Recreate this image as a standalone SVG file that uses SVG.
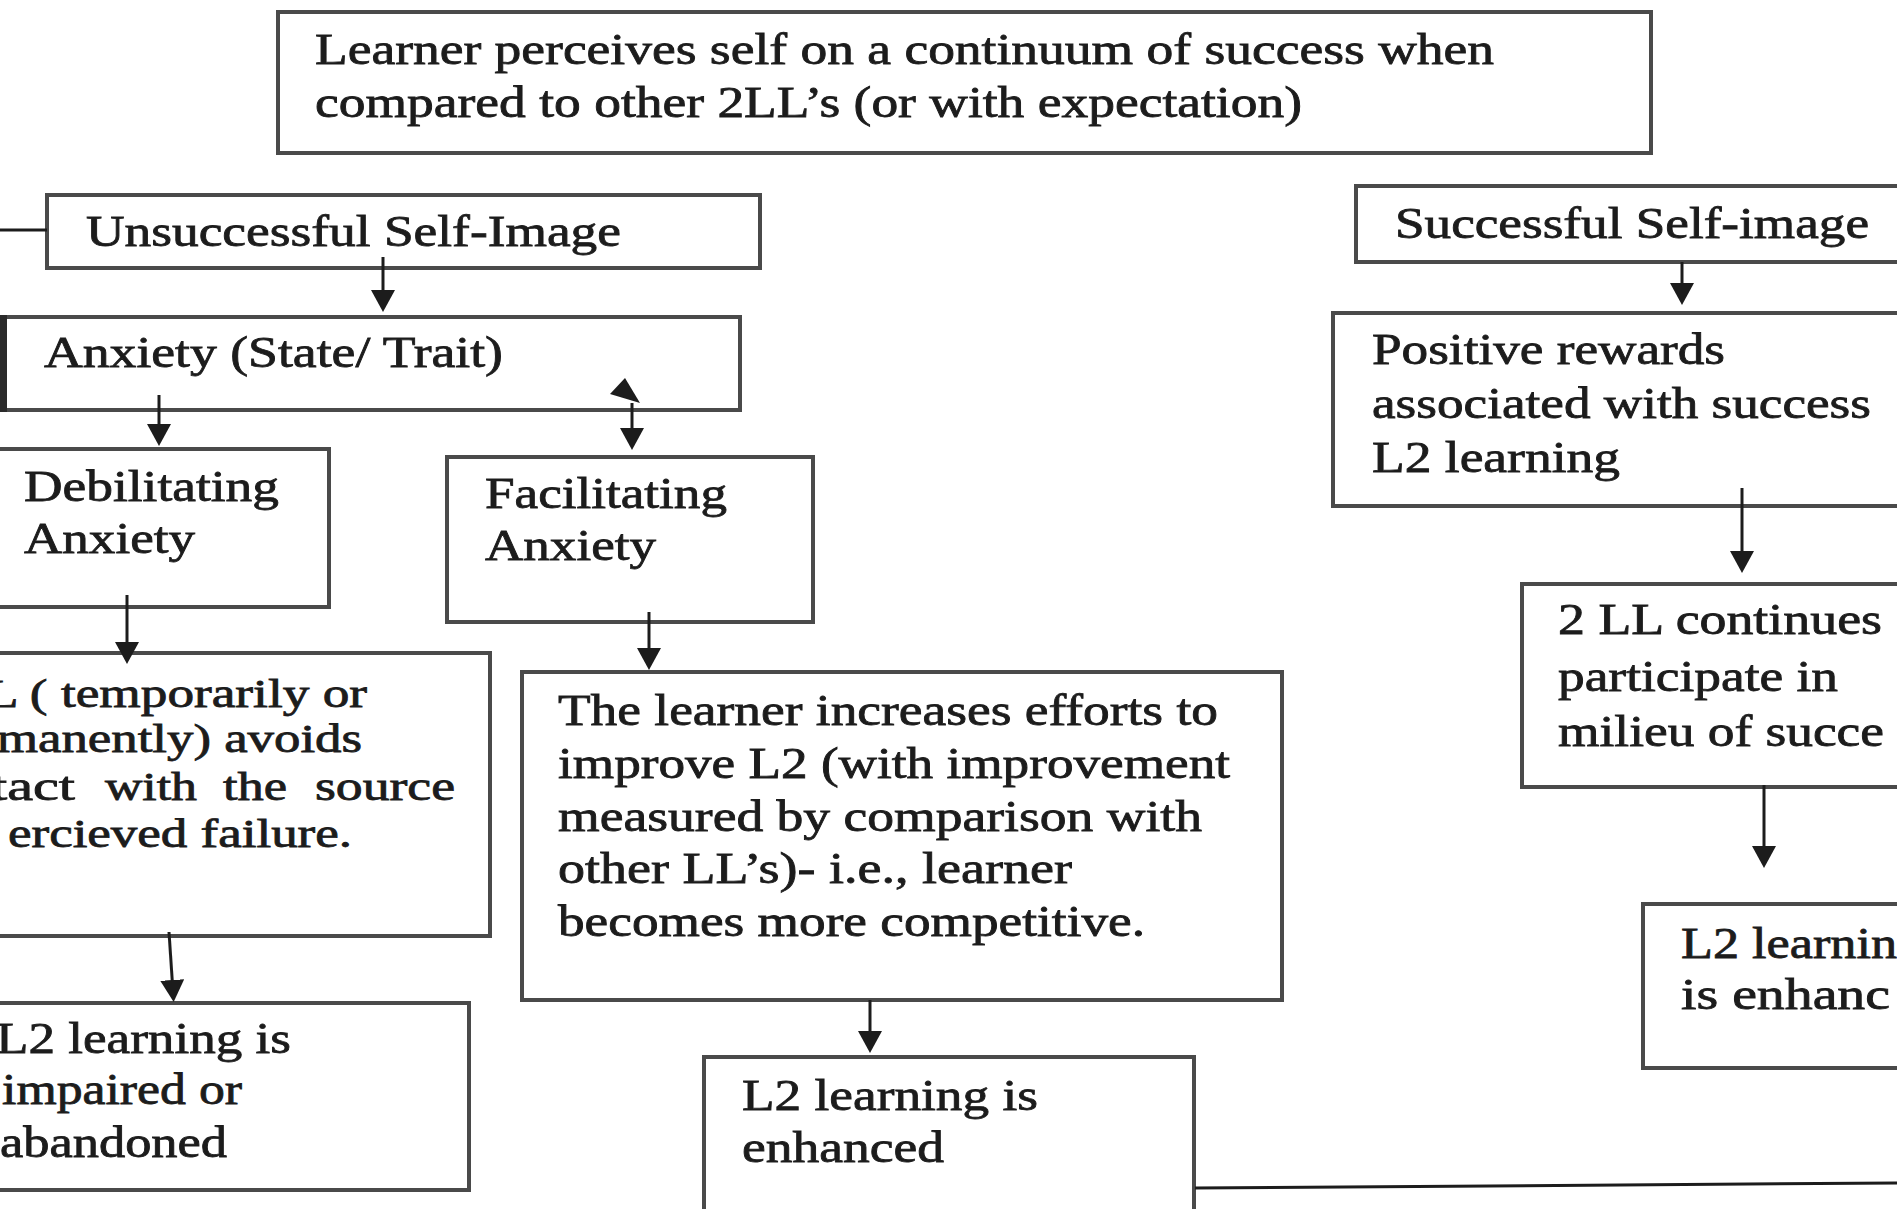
<svg xmlns="http://www.w3.org/2000/svg" width="1897" height="1209" viewBox="0 0 1897 1209">
<style>
.box{fill:#fff;stroke:#4a4a4a;stroke-width:4}
.t{font-family:"Liberation Serif","Times New Roman",serif;font-size:44px;fill:#1c1c1c;stroke:#1c1c1c;stroke-width:0.8}
.s{font-size:40px}
.c{stroke:#1c1c1c;stroke-width:3;fill:none}
</style>
<defs>
<marker id="ah" viewBox="0 0 22 24" refX="12" refY="12" markerWidth="22" markerHeight="24" markerUnits="userSpaceOnUse" orient="auto">
<path d="M0,0 L22,12 L0,24 Z" fill="#1c1c1c"/>
</marker>
</defs>
<rect width="1897" height="1209" fill="#fff"/>

<g id="n-top">
<rect class="box" x="278" y="12" width="1373" height="141"/>
<text class="t" x="315" y="64" textLength="1179" lengthAdjust="spacingAndGlyphs">Learner perceives self on a continuum of success when</text>
<text class="t" x="315" y="117" textLength="987" lengthAdjust="spacingAndGlyphs">compared to other 2LL’s (or with expectation)</text>
</g>

<g id="n-unsuccessful">
<rect class="box" x="47" y="195" width="713" height="73"/>
<text class="t" x="86" y="246" textLength="535" lengthAdjust="spacingAndGlyphs">Unsuccessful Self-Image</text>
</g>

<g id="n-anxiety">
<rect class="box" x="2" y="317" width="738" height="93"/>
<rect x="0" y="315" width="7" height="97" fill="#2a2a2a"/>
<text class="t" x="44" y="367" textLength="459" lengthAdjust="spacingAndGlyphs">Anxiety (State/ Trait)</text>
</g>

<g id="n-debilitating">
<rect class="box" x="-10" y="449" width="339" height="158"/>
<text class="t" x="24" y="501" textLength="255" lengthAdjust="spacingAndGlyphs">Debilitating</text>
<text class="t" x="24" y="553" textLength="171" lengthAdjust="spacingAndGlyphs">Anxiety</text>
</g>

<g id="n-facilitating">
<rect class="box" x="447" y="457" width="366" height="165"/>
<text class="t" x="485" y="508" textLength="242" lengthAdjust="spacingAndGlyphs">Facilitating</text>
<text class="t" x="485" y="560" textLength="171" lengthAdjust="spacingAndGlyphs">Anxiety</text>
</g>

<g id="n-avoids">
<rect class="box" x="-10" y="653" width="500" height="283"/>
<text class="t s" x="-14" y="707" textLength="381" lengthAdjust="spacingAndGlyphs">L ( temporarily or</text>
<text class="t s" x="-3" y="752" textLength="365" lengthAdjust="spacingAndGlyphs">manently) avoids</text>
<text class="t s" y="800"><tspan x="-9" textLength="84" lengthAdjust="spacingAndGlyphs">tact</tspan> <tspan x="105" textLength="92" lengthAdjust="spacingAndGlyphs">with</tspan> <tspan x="223" textLength="64" lengthAdjust="spacingAndGlyphs">the</tspan> <tspan x="315" textLength="140" lengthAdjust="spacingAndGlyphs">source</tspan></text>
<text class="t s" x="8" y="847" textLength="344" lengthAdjust="spacingAndGlyphs">ercieved failure.</text>
</g>

<g id="n-impaired">
<rect class="box" x="-10" y="1003" width="479" height="187"/>
<text class="t" x="-4" y="1053" textLength="295" lengthAdjust="spacingAndGlyphs">L2 learning is</text>
<text class="t" x="2" y="1104" textLength="240" lengthAdjust="spacingAndGlyphs">impaired or</text>
<text class="t" x="0" y="1157" textLength="227" lengthAdjust="spacingAndGlyphs">abandoned</text>
</g>

<g id="n-learner">
<rect class="box" x="522" y="672" width="760" height="328"/>
<text class="t" x="558" y="725" textLength="660" lengthAdjust="spacingAndGlyphs">The learner increases efforts to</text>
<text class="t" x="558" y="778" textLength="672" lengthAdjust="spacingAndGlyphs">improve L2 (with improvement</text>
<text class="t" x="558" y="831" textLength="644" lengthAdjust="spacingAndGlyphs">measured by comparison with</text>
<text class="t" x="558" y="883" textLength="514" lengthAdjust="spacingAndGlyphs">other LL’s)- i.e., learner</text>
<text class="t" x="558" y="936" textLength="587" lengthAdjust="spacingAndGlyphs">becomes more competitive.</text>
</g>

<g id="n-enhanced-mid">
<rect class="box" x="704" y="1057" width="490" height="160"/>
<text class="t" x="742" y="1110" textLength="296" lengthAdjust="spacingAndGlyphs">L2 learning is</text>
<text class="t" x="742" y="1162" textLength="202" lengthAdjust="spacingAndGlyphs">enhanced</text>
</g>

<g id="n-successful">
<rect class="box" x="1356" y="186" width="550" height="76"/>
<text class="t" x="1395" y="238" textLength="474" lengthAdjust="spacingAndGlyphs">Successful Self-image</text>
</g>

<g id="n-positive">
<rect class="box" x="1333" y="313" width="573" height="193"/>
<text class="t" x="1372" y="364" textLength="353" lengthAdjust="spacingAndGlyphs">Positive rewards</text>
<text class="t" x="1372" y="418" textLength="499" lengthAdjust="spacingAndGlyphs">associated with success</text>
<text class="t" x="1372" y="472" textLength="248" lengthAdjust="spacingAndGlyphs">L2 learning</text>
</g>

<g id="n-continues">
<rect class="box" x="1522" y="584" width="384" height="203"/>
<text class="t" x="1558" y="634" textLength="324" lengthAdjust="spacingAndGlyphs">2 LL continues</text>
<text class="t" x="1558" y="691" textLength="280" lengthAdjust="spacingAndGlyphs">participate in</text>
<text class="t" x="1558" y="746" textLength="326" lengthAdjust="spacingAndGlyphs">milieu of succe</text>
</g>

<g id="n-enhanced-right">
<rect class="box" x="1643" y="904" width="263" height="164"/>
<text class="t" x="1681" y="958" textLength="216" lengthAdjust="spacingAndGlyphs">L2 learnin</text>
<text class="t" x="1681" y="1009" textLength="209" lengthAdjust="spacingAndGlyphs">is enhanc</text>
</g>

<g id="connectors">
<line class="c" x1="0" y1="230" x2="47" y2="230"/>
<line class="c" x1="383" y1="257" x2="383" y2="302" marker-end="url(#ah)"/>
<line class="c" x1="159" y1="395" x2="159" y2="436" marker-end="url(#ah)"/>
<path d="M625,378 L610,394 L640,403 Z" fill="#1c1c1c"/>
<line class="c" x1="632" y1="403" x2="632" y2="440" marker-end="url(#ah)"/>
<line class="c" x1="127" y1="595" x2="127" y2="654" marker-end="url(#ah)"/>
<line class="c" x1="649" y1="612" x2="649" y2="660" marker-end="url(#ah)"/>
<line class="c" x1="169" y1="932" x2="173" y2="992" marker-end="url(#ah)"/>
<line class="c" x1="870" y1="1000" x2="870" y2="1043" marker-end="url(#ah)"/>
<line class="c" x1="1682" y1="262" x2="1682" y2="295" marker-end="url(#ah)"/>
<line class="c" x1="1742" y1="488" x2="1742" y2="563" marker-end="url(#ah)"/>
<line class="c" x1="1764" y1="785" x2="1764" y2="858" marker-end="url(#ah)"/>
<line class="c" x1="1195" y1="1188" x2="1897" y2="1183"/>
</g>
</svg>
